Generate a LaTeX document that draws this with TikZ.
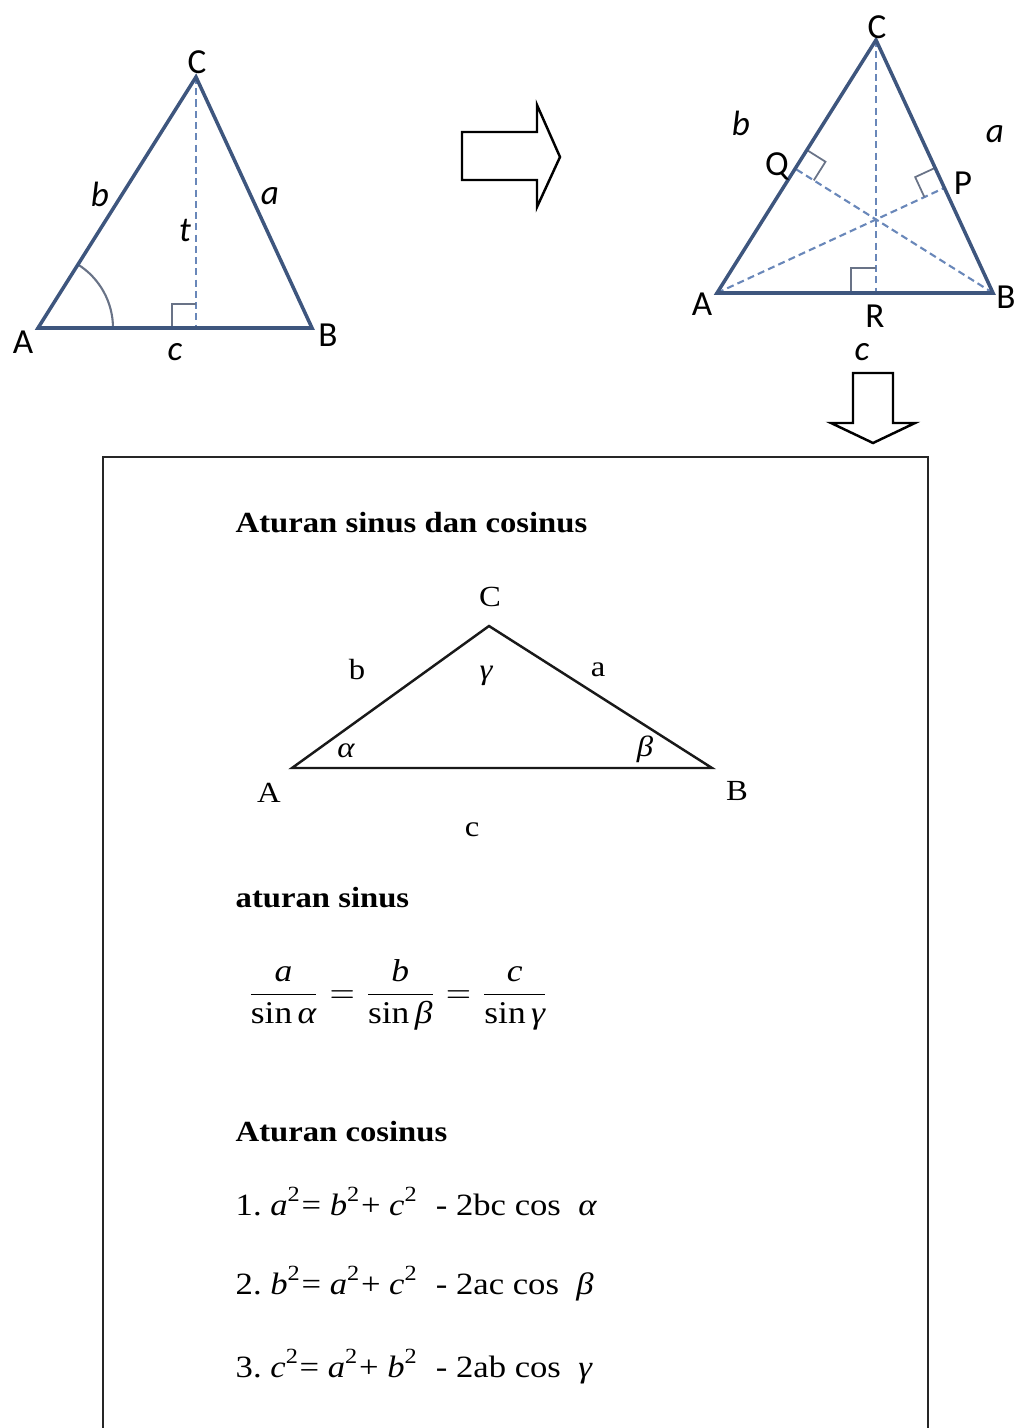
\documentclass[tikz,border=0pt]{standalone}
\usepackage{fontspec}
\setmainfont[FakeStretch=1.12]{Liberation Serif}
\newfontfamily\labelfont{Carlito}
\usepackage{amsmath}
\usepackage{xcolor}
\definecolor{sideblue}{RGB}{62,86,126}
\definecolor{dashblue}{RGB}{105,135,185}
\definecolor{markgray}{RGB}{105,115,135}
\usepackage{tikz}
\usetikzlibrary{calc}

% tanda siku: titik sudut, arah 1, arah 2, ukuran
\newcommand{\siku}[4]{%
  \path ($(#1)!#4!(#2)$) coordinate (s1) ($(#1)!#4!(#3)$) coordinate (s2);
  \draw[tanda] (s1) -- ($(s1)+(s2)-(#1)$) -- (s2);}

\begin{document}
\begin{tikzpicture}[x=0.01cm,y=-0.01cm,
  sisi/.style={sideblue,line width=1pt},
  garis/.style={dashblue,line width=0.6pt,dash pattern=on 2pt off 1.2pt},
  tanda/.style={markgray,line width=0.5pt},
  lbl/.style={inner sep=0pt,font=\labelfont\fontsize{10}{12}\selectfont},
  var/.style={inner sep=0pt,font=\labelfont\itshape\fontsize{10}{12}\selectfont},
  panah/.style={black,line width=0.7pt,fill=white,line join=miter},
  judul/.style={anchor=base west,inner sep=0pt,font=\bfseries\fontsize{8.3}{10}\selectfont},
  teks/.style={anchor=base west,inner sep=0pt,font=\fontsize{8.8}{10}\selectfont},
  huruf/.style={inner sep=0pt,font=\fontsize{8.3}{10}\selectfont}]
  \useasboundingbox (0,0) rectangle (1019,1428);
  % --- Segitiga kiri dengan garis tinggi t ---
  \coordinate (A1) at (38,328); \coordinate (B1) at (312,328); \coordinate (C1) at (196,77);
  \coordinate (H1) at ($(A1)!(C1)!(B1)$);
  \draw[garis] (C1) -- (H1);
  \siku{H1}{A1}{C1}{0.24cm}
  \draw[markgray,line width=0.6pt] ($(A1)+(75,0)$) arc[start angle=0,end angle=57.8,radius=0.75cm];
  \draw[sisi] (A1) -- (B1) -- (C1) -- cycle;
  \node[lbl] (lA1) at (23,342) {A};
  \node[lbl] (lB1) at (328,335) {B};
  \node[lbl] (lC1) at (197,62) {C};
  \node[var] (la1) at (270,196) {a};
  \node[var] (lb1) at (100,194) {b};
  \node[var] (lc1) at (175,352) {c};
  \node[var] (lt1) at (185,231) {t};
  % --- Panah ke kanan ---
  \draw[panah] (462,132) -- (537,132) -- (537,105) -- (560,157) -- (537,207) -- (537,180) -- (462,180) -- cycle;
  % --- Segitiga kanan dengan tiga garis tinggi ---
  \coordinate (A2) at (717,293); \coordinate (B2) at (993,293); \coordinate (C2) at (876,40);
  \coordinate (R) at ($(A2)!(C2)!(B2)$);
  \coordinate (Q) at ($(A2)!(B2)!(C2)$);
  \coordinate (P) at ($(B2)!(A2)!(C2)$);
  \draw[garis] (C2) -- (R);
  \draw[garis] (A2) -- (P);
  \draw[garis] (B2) -- (Q);
  \siku{R}{A2}{C2}{0.25cm}
  \siku{Q}{C2}{B2}{0.22cm}
  \siku{P}{C2}{A2}{0.22cm}
  \draw[sisi] (A2) -- (B2) -- (C2) -- cycle;
  \node[lbl] (lA2) at (702,304) {A};
  \node[lbl] (lB2) at (1006,297) {B};
  \node[lbl] (lC2) at (877,27) {C};
  \node[lbl] (lP) at (963,183) {P};
  \node[lbl] (lQ) at (777,166) {Q};
  \node[lbl] (lR) at (875,316) {R};
  \node[var] (la2) at (995,134) {a};
  \node[var] (lb2) at (741,123) {b};
  \node[var] (lc2) at (862,352) {c};
  % --- Panah ke bawah ---
  \draw[panah] (853,373) -- (893,373) -- (893,423) -- (915,423) -- (873,443) -- (831,423) -- (853,423) -- cycle;
  % --- Kotak aturan sinus dan cosinus ---
  \draw[black!85,line width=0.8pt] (103,1428) -- (103,457) -- (928,457) -- (928,1428);
  \node[judul] (jd1) at (235,532) {Aturan sinus dan cosinus};
  \coordinate (A3) at (292,768); \coordinate (B3) at (712,768); \coordinate (C3) at (489,626);
  \draw[black!90,line width=0.7pt] (A3) -- (B3) -- (C3) -- cycle;
  \node[huruf] (lC3) at (490,597) {C};
  \node[huruf] (lA3) at (269,793) {A};
  \node[huruf] (lB3) at (737,791) {B};
  \node[huruf] (lb3) at (357,670) {b};
  \node[huruf] (la3) at (598,670) {a};
  \node[huruf] (lc3) at (472,830) {c};
  \node[huruf] (lg3) at (486,676) {\itshape γ};
  \node[huruf] (lal3) at (346,751) {\itshape α};
  \node[huruf] (lbe3) at (645,749) {\itshape β};
  \node[judul] (jd2) at (235,907) {aturan sinus};
  \node[huruf,font=\fontsize{9}{11}\selectfont] (rumus) at (398,995) {$\dfrac{\textit{a}}{\text{sin}\,\textit{α}} = \dfrac{\textit{b}}{\text{sin}\,\textit{β}} = \dfrac{\textit{c}}{\text{sin}\,\textit{γ}}$};
  \node[judul] (jd3) at (235,1141) {Aturan cosinus};
  \node[teks] (rs1) at (235,1215) {1.\ \textit{a}\textsuperscript{2}= \textit{b}\textsuperscript{2}+ \textit{c}\textsuperscript{2}\ \ - 2bc cos \ \textit{α}};
  \node[teks] (rs2) at (235,1294) {2.\ \textit{b}\textsuperscript{2}= \textit{a}\textsuperscript{2}+ \textit{c}\textsuperscript{2}\ \ - 2ac cos \ \textit{β}};
  \node[teks] (rs3) at (235,1377) {3.\ \textit{c}\textsuperscript{2}= \textit{a}\textsuperscript{2}+ \textit{b}\textsuperscript{2}\ \ - 2ab cos \ \textit{γ}};
\end{tikzpicture}
\end{document}
